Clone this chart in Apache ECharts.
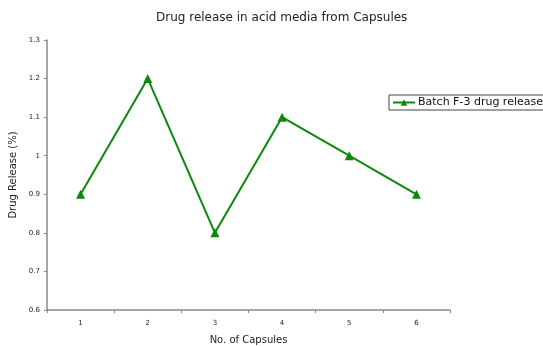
<!DOCTYPE html>
<html><head><meta charset="utf-8">
<script src="https://cdn.jsdelivr.net/npm/echarts@6/dist/echarts.min.js"></script>
<style>html,body{margin:0;padding:0;background:#fff}#c{width:543px;height:346px}</style>
</head><body><div id="c"></div>
<script>
const categories = ['1','2','3','4','5','6'];
const seriesName = 'Batch F-3 drug release';
const values = [0.9, 1.2, 0.8, 1.1, 1.0, 0.9];
const chart = echarts.init(document.getElementById('c'), null, {renderer:'canvas'});
const font = 'DejaVu Sans, Verdana, sans-serif';
chart.setOption({
  animation:false,
  backgroundColor:'#fff',
  title:{text:'Drug release in acid media from Capsules',left:151,top:7,
    textStyle:{fontFamily:font,fontSize:12,fontWeight:'normal',color:'#222'}},
  legend:{left:389,top:95,itemWidth:22,itemHeight:8,itemGap:4,padding:[2,4,2,3],
    borderColor:'#444',borderWidth:1,borderRadius:0,
    textStyle:{fontFamily:font,fontSize:11,color:'#111',padding:[0,0,0,-2]},data:[seriesName]},
  grid:{left:47,right:93,top:40,bottom:36,containLabel:false,outerBoundsMode:'none'},
  xAxis:{type:'category',data:categories,boundaryGap:true,
    name:'No. of Capsules',nameLocation:'middle',nameGap:25,
    nameTextStyle:{fontFamily:font,fontSize:10,color:'#222'},
    axisLine:{lineStyle:{color:'#888',width:1.5}},
    axisTick:{show:true,length:3,alignWithLabel:false,lineStyle:{color:'#888'}},
    axisLabel:{fontFamily:font,fontSize:7,color:'#222',margin:10}},
  yAxis:{type:'value',min:0.6,max:1.3,interval:0.1,
    name:'Drug Release (%)',nameLocation:'middle',nameGap:25,
    nameTextStyle:{fontFamily:font,fontSize:10,color:'#222'},
    axisLine:{show:true,lineStyle:{color:'#888',width:1.5}},
    axisTick:{show:true,length:3,lineStyle:{color:'#888'}},
    splitLine:{show:false},
    axisLabel:{fontFamily:font,fontSize:7,color:'#222',margin:7,
      formatter:v=>String(Math.round(v*10)/10)}},
  series:[{name:seriesName,type:'line',data:values,
    symbol:'triangle',symbolSize:9,
    lineStyle:{color:'#0a8a0a',width:2},
    itemStyle:{color:'#0a8a0a'}}]
});
</script></body></html>
